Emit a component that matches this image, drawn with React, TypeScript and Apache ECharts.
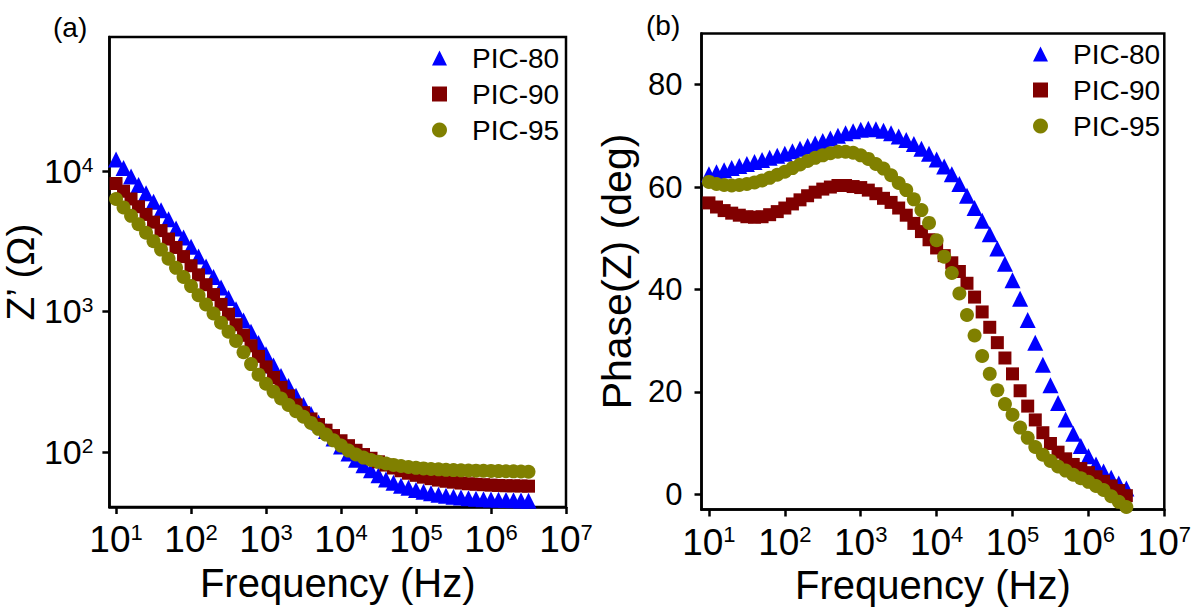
import React, { useEffect, useRef } from "react";
import * as echarts from "echarts";

// Frequency grid (Hz)
const freqs = [
  10, 12.59, 15.85, 19.95, 25.12, 31.62, 39.81, 50.12, 63.1, 79.43,
  100, 125.9, 158.5, 199.5, 251.2, 316.2, 398.1, 501.2, 631, 794.3,
  1000, 1259, 1585, 1995, 2512, 3162, 3981, 5012, 6310, 7943,
  10000, 12590, 15850, 19950, 25120, 31620, 39810, 50120, 63100, 79430,
  100000, 125900, 158500, 199500, 251200, 316200, 398100, 501200, 631000, 794300,
  1000000, 1259000, 1585000, 1995000, 2512000, 3162000,
];

// Panel (a): Z' (Ohm)
const zPIC80 = [
  12023, 10471, 9120, 7943, 6918, 6026, 5248, 4519, 3890, 3350,
  2884, 2455, 2089, 1758, 1479, 1245, 1035, 861, 716, 596,
  495, 412, 347, 295, 251, 216, 186, 162, 141, 124.5,
  109.6, 97.7, 88.1, 80.4, 74.1, 68.4, 63.8, 60.3, 57.5, 55.6,
  53.7, 52.2, 50.8, 49.7, 48.8, 48.0, 47.4, 46.9, 46.5, 46.1,
  45.9, 45.7, 45.5, 45.3, 45.1, 44.9,
];
const zPIC90 = [
  8128, 7161, 6310, 5559, 4898, 4315, 3758, 3273, 2851, 2455,
  2113, 1820, 1549, 1318, 1122, 955, 803.5, 676, 569, 479,
  403, 339, 288, 251, 216, 190.5, 171.8, 156.7, 142.9, 130.9,
  120.2, 110.9, 102.8, 95.9, 90.2, 85.1, 80.7, 76.9, 73.5, 70.6,
  68.2, 66.2, 64.6, 63.1, 61.9, 61.0, 60.1, 59.4, 58.9, 58.5,
  58.1, 57.8, 57.5, 57.4, 57.3, 57.1,
];
const zPIC95 = [
  6310, 5495, 4786, 4169, 3631, 3162, 2754, 2371, 2042, 1758,
  1514, 1303, 1122, 966, 832, 716, 617, 513, 422, 355,
  305.5, 269, 240, 216, 195, 178, 161, 146, 133, 121,
  111, 102.3, 95.9, 91.2, 87.7, 85.1, 82.8, 80.9, 79.4, 78.2,
  77.1, 76.4, 75.7, 75.2, 74.6, 74.3, 74.0, 73.8, 73.6, 73.5,
  73.3, 73.1, 72.9, 72.8, 72.6, 72.4,
];

// Panel (b): Phase(Z) (deg)
const pPIC80 = [
  62.5, 62.9, 63.3, 63.7, 64.1, 64.5, 64.9, 65.3, 65.7, 66.1,
  66.5, 67.0, 67.5, 68.0, 68.5, 69.0, 69.5, 70.0, 70.5, 70.9,
  71.2, 71.4, 71.3, 71.0, 70.5, 69.9, 69.2, 68.4, 67.5, 66.5,
  65.4, 64.0, 62.5, 60.6, 58.3, 55.9, 53.4, 50.8, 48.0, 45.0,
  41.8, 38.2, 34.0, 29.6, 25.3, 21.3, 17.8, 14.6, 11.8, 9.4,
  7.4, 5.8, 4.4, 3.2, 2.1, 1.1,
];
const pPIC90 = [
  56.9, 56.1, 55.4, 54.9, 54.5, 54.2, 54.1, 54.2, 54.6, 55.2,
  55.9, 56.7, 57.5, 58.3, 59.0, 59.6, 60.0, 60.3, 60.3, 60.1,
  59.9, 59.4, 58.7, 57.8, 57.0, 55.9, 54.5, 52.9, 51.3, 49.7,
  48.1, 46.6, 45.2, 43.5, 41.2, 38.5, 35.6, 32.6, 29.6, 26.6,
  23.5, 20.2, 17.2, 14.5, 12.0, 9.9, 8.2, 6.9, 5.8, 5.0,
  4.2, 3.4, 2.5, 1.6, 0.7, -0.3,
];
const pPIC95 = [
  61.0, 60.6, 60.4, 60.3, 60.4, 60.6, 60.9, 61.3, 61.8, 62.4,
  63.0, 63.7, 64.4, 65.1, 65.7, 66.2, 66.6, 66.9, 66.9, 66.7,
  66.2, 65.5, 64.5, 63.6, 62.3, 60.8, 59.4, 57.6, 55.5, 53.0,
  49.6, 46.4, 43.2, 39.2, 35.0, 31.0, 27.0, 23.5, 20.3, 17.6,
  15.5, 13.0, 11.0, 9.2, 7.7, 6.5, 5.4, 4.6, 3.8, 3.1,
  2.4, 1.6, 0.8, -0.4, -1.5, -2.5,
];

const seriesNames = ["PIC-80", "PIC-90", "PIC-95"];
const decadeTicksX = [10, 100, 1000, 10000, 100000, 1000000, 10000000];
const decadeTicksZ = [100, 1000, 10000];
const phaseTicks = [0, 20, 40, 60, 80];

const FONT = "Liberation Sans, Arial, sans-serif";
const colors = ["#0000ff", "#800000", "#808000"];
const symbols = ["triangle", "rect", "circle"];
const sizes = [16, 13, 14];

const pow10Label = (v: number) => `{b|10}{s|${Math.round(Math.log10(v))}}`;
const richPowX = {
  b: { fontSize: 37, fontFamily: FONT, color: "#000" },
  s: { fontSize: 22, fontFamily: FONT, color: "#000", verticalAlign: "top" as const },
};
const richPowY = {
  b: { fontSize: 34, fontFamily: FONT, color: "#000" },
  s: { fontSize: 21, fontFamily: FONT, color: "#000", verticalAlign: "top" as const },
};

export default function App() {
  const ref = useRef<HTMLDivElement>(null);
  useEffect(() => {
    if (!ref.current) return;
    const chart = echarts.init(ref.current, undefined, { renderer: "svg" });
    const axisLine = { show: true, onZero: false, lineStyle: { color: "#000", width: 2.5 } };
    const axisTickBase = { show: true, inside: false, length: 7, lineStyle: { color: "#000", width: 2.5 } };
    const zData = [zPIC80, zPIC90, zPIC95];
    const pData = [pPIC80, pPIC90, pPIC95];
    const series: any[] = [];
    for (let k = 0; k < 3; k++) {
      series.push({
        name: seriesNames[k], type: "scatter", xAxisIndex: 0, yAxisIndex: 0,
        symbol: symbols[k], symbolSize: sizes[k], itemStyle: { color: colors[k], opacity: 1 },
        data: freqs.map((f, i) => [f, zData[k][i]]),
      });
    }
    for (let k = 0; k < 3; k++) {
      series.push({
        name: seriesNames[k], type: "scatter", xAxisIndex: 1, yAxisIndex: 1,
        symbol: symbols[k], symbolSize: sizes[k], itemStyle: { color: colors[k], opacity: 1 },
        data: freqs.map((f, i) => [f, pData[k][i]]),
      });
    }
    const legendCommon = {
      orient: "vertical" as const,
      itemWidth: 15, itemHeight: 15, itemGap: 8,
      data: seriesNames,
      textStyle: { fontSize: 28, fontFamily: FONT, color: "#000", lineHeight: 27, padding: [0, 0, 0, 20] },
      selectedMode: false,
    };
    const xAxisCommon = (min: number, gridIndex: number) => ({
      type: "log" as const, logBase: 10, gridIndex, min, max: 10000000,
      name: "Frequency (Hz)", nameLocation: "middle" as const, nameGap: 52,
      nameTextStyle: { fontSize: 40, fontFamily: FONT, color: "#000" },
      axisLine, axisTick: { ...axisTickBase, customValues: decadeTicksX },
      splitLine: { show: false }, minorTick: { show: false },
      axisLabel: { customValues: decadeTicksX, formatter: pow10Label, rich: richPowX, margin: 14 },
    });
    chart.setOption({
      animation: false,
      backgroundColor: "#fff",
      title: [
        { text: "(a)", left: 48, top: 8, textStyle: { fontSize: 28, fontWeight: "normal", fontFamily: FONT, color: "#000" } },
        { text: "(b)", left: 641, top: 6, textStyle: { fontSize: 28, fontWeight: "normal", fontFamily: FONT, color: "#000" } },
      ],
      legend: [
        { ...legendCommon, left: 427, top: 39 },
        { ...legendCommon, left: 1028, top: 35 },
      ],
      grid: [
        { left: 105, top: 37, width: 461, height: 470, show: true, borderColor: "#000", borderWidth: 2.5, containLabel: false },
        { left: 701.5, top: 33.5, width: 466, height: 476, show: true, borderColor: "#000", borderWidth: 2.5, containLabel: false },
      ],
      xAxis: [xAxisCommon(8.155, 0), xAxisCommon(7.98, 1)],
      yAxis: [
        {
          type: "log", logBase: 10, gridIndex: 0, min: 40.6, max: 89600,
          name: "Z\u2019 (\u03A9)", nameLocation: "middle", nameGap: 53, nameRotate: 90,
          nameTextStyle: { fontSize: 39, fontFamily: FONT, color: "#000" },
          axisLine, axisTick: { ...axisTickBase, customValues: decadeTicksZ },
          splitLine: { show: false }, minorTick: { show: false },
          axisLabel: { customValues: decadeTicksZ, formatter: pow10Label, rich: richPowY, margin: 16 },
        },
        {
          type: "value", gridIndex: 1, min: -3, max: 90,
          name: "Phase(Z) (deg)", nameLocation: "middle", nameGap: 64, nameRotate: 90,
          nameTextStyle: { fontSize: 41, fontFamily: FONT, color: "#000" },
          axisLine, axisTick: { ...axisTickBase, customValues: phaseTicks },
          splitLine: { show: false },
          axisLabel: { customValues: phaseTicks, fontSize: 31, fontFamily: FONT, color: "#000", margin: 19 },
        },
      ],
      series,
    });
    return () => chart.dispose();
  }, []);
  return (
    <div
      ref={ref}
      style={{ position: "absolute", left: 0, top: 0, width: 1194, height: 612 }}
    />
  );
}
